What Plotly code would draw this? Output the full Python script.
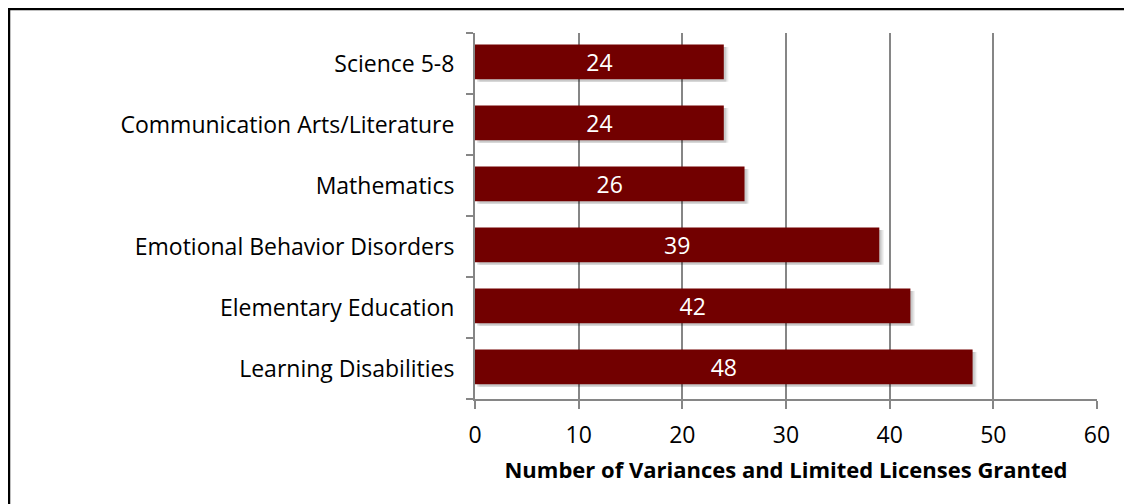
import plotly.graph_objects as go

categories = ["Learning Disabilities", "Elementary Education", "Emotional Behavior Disorders",
              "Mathematics", "Communication Arts/Literature", "Science 5-8"]
counts = [48, 42, 39, 26, 24, 24]
x_ticks = [0, 10, 20, 30, 40, 50, 60]

BAR = "#720000"
GRID = "#868686"
FONT = "Open Sans, Lato, sans-serif"

fig = go.Figure()

# soft drop shadow behind each bar
for blur, alpha in [(0.45, 0.05), (0.33, 0.07), (0.2, 0.1)]:
    fig.add_trace(go.Bar(
        y=categories, x=counts, orientation="h", base=blur,
        width=0.57, offset=-0.30, marker=dict(color=f"rgba(0,0,0,{alpha})", line=dict(width=0)),
        hoverinfo="skip", showlegend=False,
    ))

fig.add_trace(go.Bar(
    y=categories, x=counts, orientation="h",
    width=0.57, offset=-0.26,
    marker=dict(color=BAR, line=dict(width=0)),
    text=[str(v) for v in counts], textposition="inside", insidetextanchor="middle",
    textangle=0, constraintext="none",
    textfont=dict(color="white", size=23, family=FONT),
    showlegend=False,
))

# page body has an 8px margin, so the figure is sized to end at the window edge
fig.update_layout(
    width=1124, height=496, barmode="overlay",
    margin=dict(l=467, r=35, t=25, b=105),
    paper_bgcolor="white", plot_bgcolor="white",
    font=dict(family=FONT, color="black", size=23),
    shapes=[dict(type="rect", xref="paper", yref="paper",
                 x0=-466 / 622, x1=1.2, y0=-0.5, y1=1 + 24 / 366,
                 line=dict(color="black", width=2.5))],
)
fig.update_xaxes(
    range=[0, 60], tickvals=x_ticks, showgrid=True, gridcolor=GRID, gridwidth=1.5,
    showline=True, linecolor=GRID, linewidth=2, ticks="outside", tickcolor=GRID,
    ticklen=8, tickwidth=1.5, zeroline=False, tickfont=dict(size=23),
    ticklabelstandoff=6,
    title=dict(text="<b>Number of Variances and Limited Licenses Granted</b>",
               font=dict(size=22), standoff=14),
)
fig.update_yaxes(
    showgrid=False, showline=True, linecolor=GRID, linewidth=2, ticks="outside",
    tickson="boundaries", tickcolor=GRID, ticklen=7, tickwidth=1.5,
    ticklabelstandoff=14, tickfont=dict(size=23),
)

fig.write_html("out.html")
